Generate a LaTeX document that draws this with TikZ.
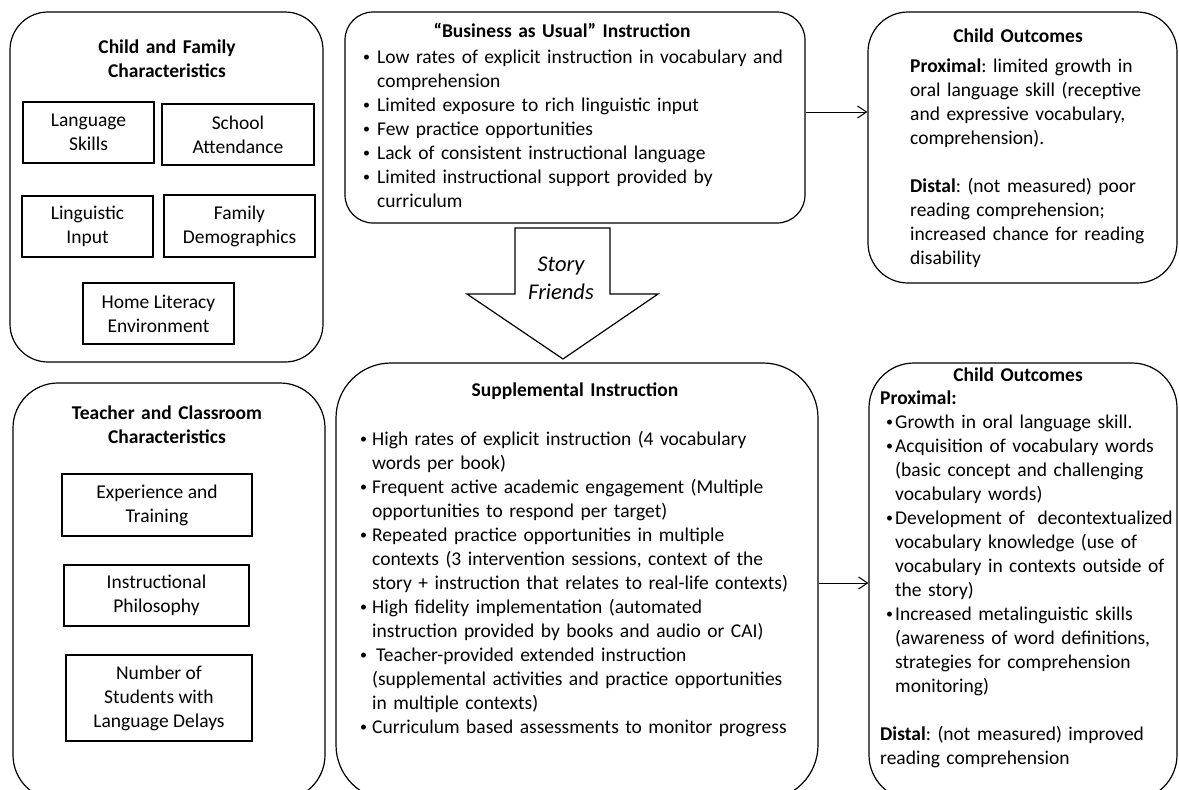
\documentclass[tikz,border=0pt]{standalone}
\usepackage{fontspec}
\setmainfont{Carlito}
\usetikzlibrary{arrows.meta}
\frenchspacing
\newcommand\myfs{\fontsize{19.5}{24}\selectfont\frenchspacing}
\newcommand\smbul{\raisebox{1.2pt}{\fontsize{14}{14}\selectfont\textbullet}}
\newcommand\bl[2]{\hspace*{#1}\makebox[#2][l]{\smbul}}
\newcommand\cn[1]{\hspace*{#1}}
\begin{document}
\begin{tikzpicture}[x=1pt,y=-1pt,
  rbox/.style={draw, line width=1.2pt, inner sep=0pt, rounded corners=#1},
  rbox/.default=30pt,
  sbox/.style={draw, line width=1.3pt, align=center, inner sep=0pt, font=\myfs},
  txt/.style={inner sep=0pt, align=left, text width=#1, font=\myfs, anchor=base west},
  ttl/.style={inner sep=0pt, align=center, text width=#1, font=\myfs\bfseries, anchor=base},
  arr/.style={-{Straight Barb[length=9pt,width=12pt]}, line width=1pt}]
\path[use as bounding box] (0,0) rectangle (1179,790);
\clip (0,0) rectangle (1179,790);

% ---------- Child and family ----------
\node[rbox=38pt, minimum width=313pt, minimum height=350pt] (cf) at (166.5,187) {};
\node[ttl=300pt] (cft) at (167,53) {Child and Family\\Characteristics};
\node[sbox, minimum width=131pt, minimum height=61pt] (ls) at (88.5,132.5) {Language\\Skills};
\node[sbox, minimum width=152pt, minimum height=61pt] (sa) at (238,134.5) {School\\Attendance};
\node[sbox, minimum width=131pt, minimum height=61pt] (li) at (87.5,226.5) {Linguistic\\Input};
\node[sbox, minimum width=151pt, minimum height=62pt] (fd) at (239.5,226) {Family\\Demographics};
\node[sbox, minimum width=151pt, minimum height=61pt] (hl) at (158.5,313.5) {Home Literacy\\Environment};

% ---------- Teacher and classroom ----------
\node[rbox=45pt, minimum width=312pt, minimum height=417pt] (tc) at (169,591.5) {};
\node[ttl=300pt] (tct) at (167,419) {Teacher and Classroom\\Characteristics};
\node[sbox, minimum width=190pt, minimum height=62pt] (et) at (157,505) {Experience and\\Training};
\node[sbox, minimum width=185pt, minimum height=61pt] (ip) at (156.5,595.5) {Instructional\\Philosophy};
\node[sbox, minimum width=186pt, minimum height=86pt] (ns) at (159,698) {Number of\\Students with\\Language Delays};

% ---------- Business as usual ----------
\node[rbox=28pt, minimum width=460pt, minimum height=211pt] (bau) at (575,117.5) {};
\node[ttl=440pt] (baut) at (562,37) {``Business as Usual'' Instruction};
\node[txt=460pt] (baub) at (363,63) {%
\bl{0pt}{14pt}Low rates of explicit instruction in vocabulary and\\
\cn{14pt}comprehension\\
\bl{0pt}{14pt}Limited exposure to rich linguistic input\\
\bl{0pt}{14pt}Few practice opportunities\\
\bl{0pt}{14pt}Lack of consistent instructional language\\
\bl{0pt}{14pt}Limited instructional support provided by\\
\cn{14pt}curriculum};

% ---------- Story Friends block arrow ----------
\draw[line width=1.2pt, line join=miter] (515,228) -- (610,228) -- (610,294) -- (658,294)
  -- (563,359) -- (467,294) -- (515,294) -- cycle;
\node[inner sep=0pt, align=center, text width=90pt, anchor=base,
  font=\fontsize{22.5}{28}\selectfont\itshape] (sf) at (561,271) {Story\\Friends};

% ---------- Supplemental instruction ----------
\node[rbox=55pt, minimum width=482pt, minimum height=437pt] (supp) at (577,581.5) {};
\node[ttl=440pt] (suppt) at (575,396) {Supplemental Instruction};
\node[txt=470pt] (suppb) at (360,445) {%
\bl{0pt}{12pt}High rates of explicit instruction (4 vocabulary\\
\cn{12pt}words per book)\\
\bl{0pt}{12pt}Frequent active academic engagement (Multiple\\
\cn{12pt}opportunities to respond per target)\\
\bl{0pt}{12pt}Repeated practice opportunities in multiple\\
\cn{12pt}contexts (3 intervention sessions, context of the\\
\cn{12pt}story + instruction that relates to real-life contexts)\\
\bl{0pt}{12pt}High fidelity implementation (automated\\
\cn{12pt}instruction provided by books and audio or CAI)\\
\bl{0pt}{12pt}\hspace*{4pt}Teacher-provided extended instruction\\
\cn{12pt}(supplemental activities and practice opportunities\\
\cn{12pt}in multiple contexts)\\
\bl{0pt}{12pt}Curriculum based assessments to monitor progress};

% ---------- Child outcomes 1 ----------
\node[rbox=40pt, minimum width=309pt, minimum height=271pt] (co1) at (1022.5,147.5) {};
\node[ttl=280pt] (co1t) at (1018,42) {Child Outcomes};
\node[txt=300pt] (co1b) at (910,72) {%
\textbf{Proximal}: limited growth in\\
oral language skill (receptive\\
and expressive vocabulary,\\
comprehension).\\[24pt]
\textbf{Distal}: (not measured) poor\\
reading comprehension;\\
increased chance for reading\\
disability};

% ---------- Child outcomes 2 ----------
\node[rbox=45pt, minimum width=308pt, minimum height=437pt] (co2) at (1023,581.5) {};
\node[ttl=280pt] (co2t) at (1018,381) {Child Outcomes};
\node[txt=330pt] (co2b) at (880,404) {%
\textbf{Proximal:}\\
\bl{6pt}{9pt}Growth in oral language skill.\\
\bl{6pt}{9pt}Acquisition of vocabulary words\\
\cn{15pt}(basic concept and challenging\\
\cn{15pt}vocabulary words)\\
\bl{6pt}{9pt}Development of \ decontextualized\\
\cn{15pt}vocabulary knowledge (use of\\
\cn{15pt}vocabulary in contexts outside of\\
\cn{15pt}the story)\\
\bl{6pt}{9pt}Increased metalinguistic skills\\
\cn{15pt}(awareness of word definitions,\\
\cn{15pt}strategies for comprehension\\
\cn{15pt}monitoring)\\[24pt]
\textbf{Distal}: (not measured) improved\\
reading comprehension};

% ---------- connectors ----------
\coordinate (a1) at (836,112);
\coordinate (a2) at (843,583);
\draw[arr] (bau.east |- a1) -- (co1.west |- a1);
\draw[arr] (supp.east |- a2) -- (co2.west |- a2);
\end{tikzpicture}
\end{document}
